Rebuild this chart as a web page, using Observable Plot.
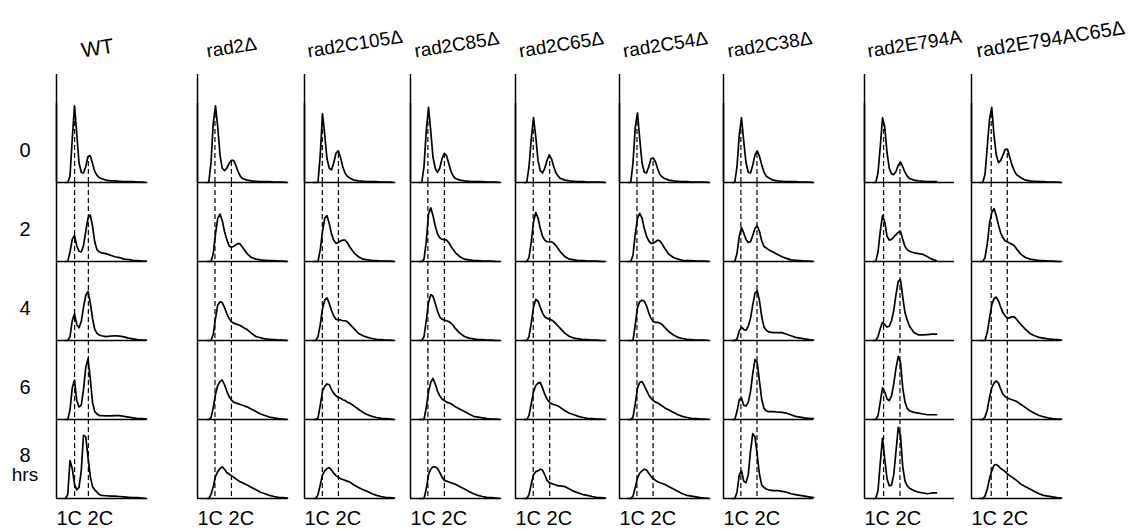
<!DOCTYPE html>
<html><head><meta charset="utf-8">
<script src="https://cdn.jsdelivr.net/npm/d3@7"></script>
<script src="https://cdn.jsdelivr.net/npm/@observablehq/plot@0.6"></script>
<style>
html,body{margin:0;padding:0;background:#fff;}
#fig{position:relative;width:1133px;height:529px;overflow:hidden;font-family:"Liberation Sans",Arial,sans-serif;}
#fig svg{position:absolute;top:0;}
</style></head><body><div id="fig"></div>
<script>
// ---------- data ----------
const strains = ["WT","rad2Δ","rad2C105Δ","rad2C85Δ","rad2C65Δ","rad2C54Δ","rad2C38Δ","rad2E794A","rad2E794AC65Δ"];
const times = ["0","2","4","6","8"];
// DNA-content channel grid (0–1000) on which the histogram heights are read
const channels = [100,125,150,175,200,225,250,275,300,325,350,375,400,425,450,475,500,550,600,650,700,750,800,850,900,950,1000];
// 1C and 2C gate positions (channels) for each strain
const oneC = [201,194,198,193,197,194,193,212,219];
const twoC = [354,377,377,377,380,373,372,394,398];

// histogram heights (% of panel) for rows 0,2,4,6,8 h
const histWT = [
  [0,0,8,55,97,62,25,13,12,20,33,34,24,14,9,6,5,3,2,2,1.5,1,1,1,0.5,0.5,0],
  [0,0,12,28,33,20,13,12,20,38,55,59,45,25,15,12,11,10,8,6,5,3,2.5,1.5,1,0.5,0.5],
  [0,0,5,25,34,20,16,24,42,57,62,48,28,14,9,7,6,5,5.5,6,5.5,4.5,3,2,1,0.5,0.5],
  [0,0,12,40,50,24,16,18,38,66,77,52,22,10,7,5,5,4.5,4.5,5,5,4,3,2,1,1,0.5],
  [0,5,48,38,18,11,14,35,80,78,52,28,15,11,8,5,4,3.5,3,3,2.5,2,1.5,1,1,0.5,0]
];
const histRad2 = [
  [0,0,25,75,97,70,35,18,15,18,24,28,28,22,14,8,5,3,2,1.5,1,1,1,0.5,0.5,0.5,0],
  [0,0,0,10,35,55,60,52,38,28,20,18,19,21,23,22,18,10,5,3,2,1.5,1,1,0.5,0.5,0],
  [0,0,0,8,28,45,49,48,42,34,28,24,22,21,20,19,17,14,9,5,3.5,2,1.5,1,0.5,0.5,0],
  [0,0,2,15,32,43,48,50,44,36,29,25,22,21,20,19,18,16,13,10,7,5,3,2,1,0.5,0],
  [0,0,5,15,28,34,38,40,37,33,31,29,27,25,23,21,20,17,14,11,8,6,4,2.5,1.5,1,0.5]
];
const histC105 = [
  [0,0,0,35,87,60,30,18,16,25,37,40,32,20,12,8,6,3,2,1.5,1,1,1,0.5,0.5,0.5,0],
  [0,0,0,15,38,55,58,48,35,27,23,24,26,27,27,24,19,11,6,3,2,1,1,0.5,0.5,0.5,0],
  [0,0,5,20,40,51,54,47,38,31,27,26,26,25,25,24,21,15,9,6,4,2.5,1.5,1,0.5,0.5,0],
  [0,0,2,18,36,42,45,44,38,33,30,28,27,25,24,22,21,17,13,9,6,4,2.5,1.5,1,0.5,0],
  [0,0,5,17,30,35,38,39,36,32,29,27,25,24,23,22,21,17,14,11,9,6,4,2.5,1.5,1,0.5]
];
const histC85 = [
  [0,0,20,65,95,65,32,18,13,18,30,37,34,24,14,8,5,3,2,1.5,1,1,1,0.5,0.5,0.5,0],
  [0,0,3,25,60,68,58,45,35,30,28,28,27,24,19,15,11,6,3,2,1,1,0.5,0.5,0.5,0,0],
  [0,0,5,25,48,58,56,47,37,30,27,26,25,24,22,19,15,9,5,3,2,1,1,0.5,0.5,0,0],
  [0,0,0,15,35,47,52,45,36,30,26,24,22,21,20,18,16,13,10,7,4,3,2,1,0.5,0.5,0],
  [0,0,0,12,30,37,40,40,38,33,27,23,22,21,20,19,18,15,12,9,6,4,2.5,1.5,1,0.5,0]
];
const histC65 = [
  [0,0,20,55,82,58,28,15,12,18,28,35,30,20,12,8,5,3,2,1.5,1,1,0.5,0.5,0.5,0.5,0],
  [0,0,5,25,50,62,55,42,32,27,25,25,25,23,20,16,12,6,3,2,1,1,0.5,0.5,0.5,0,0],
  [0,0,5,22,42,52,50,42,35,30,28,27,26,24,21,18,15,9,5,3,2,1,1,0.5,0.5,0,0],
  [0,0,5,20,35,43,46,47,40,32,26,22,20,19,18,17,15,11,8,6,4,2.5,1.5,1,0.5,0.5,0],
  [0,0,5,18,30,34,35,37,36,30,23,20,19,18,17,16,16,15,12,9,7,5,4,2.5,1.5,1,0.5]
];
const histC54 = [
  [0,0,25,70,88,55,25,13,12,20,30,31,26,17,10,7,5,3,2,1.5,1,1,0.5,0.5,0.5,0.5,0],
  [0,0,8,35,55,61,55,42,32,26,23,23,25,27,26,22,17,9,5,3,1.5,1,1,0.5,0.5,0.5,0],
  [0,0,0,20,42,49,51,50,44,35,28,24,23,23,22,20,17,11,7,4,2.5,1.5,1,0.5,0.5,0.5,0],
  [0,0,3,20,40,47,48,43,37,31,27,24,22,21,19,17,15,12,9,6,4,2.5,1.5,1,0.5,0.5,0],
  [0,0,3,14,26,32,35,37,36,32,28,25,23,21,20,19,18,15,12,9,6,4,3,2,1,0.5,0]
];
const histC38 = [
  [0,0,20,60,82,52,25,13,12,22,35,40,33,22,13,8,6,3,2,1.5,1,1,1,0.5,0.5,0.5,0],
  [0,0,10,32,43,36,28,24,25,33,42,45,38,26,19,17,15,12,9,6,4,2,1.5,1,0.5,0.5,0],
  [0,0,2,12,17,14,13,18,28,45,60,63,50,30,17,13,11,10,10,10,8,6,4,3,2,1,0.5],
  [0,0,10,25,27,18,17,22,35,58,76,72,48,25,14,11,10,10,9.5,9,8,6,4,3,2,1.5,1],
  [0,0,8,30,35,22,20,30,60,82,78,55,30,17,14,12,11,10,10,9,8,6,5,4,3,2,1]
];
// rad2E794A traces stop at channel 800
const histE794A = [
  [0,0,12,45,82,70,38,18,11,10,14,22,26,20,13,8,5,3,2,1.5,1,1,1],
  [0,0,12,38,58,50,32,27,28,31,34,37,38,28,19,15,13,11,10,9,6,3,1],
  [0,0,5,15,23,20,17,18,25,38,58,75,77,55,35,26,18,10,7,7,7.5,8,8],
  [0,0,5,22,40,35,26,24,30,45,65,80,72,40,22,14,11,9,8,7,6,6,6],
  [0,0,10,45,76,50,25,16,17,30,60,90,80,40,22,16,13,10,8,7,6,7,7]
];
const histE794AC65 = [
  [0,0,10,45,80,95,60,35,25,28,35,42,42,32,22,15,10,6,3,2,1.5,1,1,0.5,0.5,0.5,0],
  [0,0,5,22,48,62,67,58,46,36,30,26,25,23,22,20,16,9,5,3,2,1,1,0.5,0.5,0,0],
  [0,0,0,10,28,45,53,55,50,42,35,31,28,29,30,30,27,20,14,9,6,4,3,2,1.5,1,0.5],
  [0,0,3,12,28,40,46,49,46,38,32,29,27,26,25,24,23,19,15,11,8,5,3.5,2,1,0.5,0.5],
  [0,0,3,12,25,35,42,43,41,38,36,34,31,29,27,25,23,18,15,12,9,6,4,3,2,1,0.5]
];
const hists = [histWT,histRad2,histC105,histC85,histC65,histC54,histC38,histE794A,histE794AC65];

// ---------- layout ----------
const colAxisX = [56,197.3,304,410,514.7,619.3,722.7,864,970.7];
const headerDx = [26,10,4,5,4.5,4.5,5,4,6];
const headerSize = [21,19,19,19,19,19,19,19,20];
const panelW = 90;
const fig = document.getElementById("fig");
const font = "'Liberation Sans', Arial, Helvetica, sans-serif";

strains.forEach((strain, i) => {
  const ml = i === 0 ? 56 : 2;
  const mr = 2;
  const rows = hists[i];
  const data = [];
  times.forEach((t, r) => rows[r].forEach((v, k) => data.push({t, c: channels[k], v})));
  const gates = [];
  times.forEach((t, r) => [oneC[i], twoC[i]].forEach(g => {
    const top = r === 0 ? d3.scaleLinear(channels.slice(0, rows[0].length), rows[0])(g) : null;
    gates.push({t, g, top});
  }));
  const marks = [
    Plot.ruleY([0], {stroke: "black", strokeWidth: 1.3}),
    Plot.ruleX(gates.filter(d => d.t !== "0"), {x: "g", fy: "t", stroke: "black", strokeWidth: 1.2, strokeDasharray: "5,3"}),
    Plot.ruleX(gates.filter(d => d.t === "0"), {x: "g", fy: "t", y1: () => 0, y2: "top", stroke: "black", strokeWidth: 1.2, strokeDasharray: "5,3"}),
    Plot.line(data, {x: "c", y: "v", fy: "t", stroke: "black", strokeWidth: 1.7, strokeLinejoin: "round"}),
    Plot.ruleX([0], {stroke: "black", strokeWidth: 1.5}),
    Plot.ruleX([{t: "0"}], {x: () => 0, fy: "t", insetTop: -29, stroke: "black", strokeWidth: 1.5}),
    Plot.text([{t: "0", s: strain}], {fy: "t", text: "s", frameAnchor: "top-left", textAnchor: "start", lineAnchor: "bottom", rotate: -9, dx: headerDx[i], dy: -46, fontSize: headerSize[i]}),
    Plot.text([{t: "8"}], {fy: "t", text: () => "1C 2C", frameAnchor: "bottom-left", textAnchor: "start", lineAnchor: "bottom", dy: 26, fontSize: 20})
  ];
  if (i === 0) {
    marks.push(
      Plot.text(times.filter(t => t !== "8"), {fy: d => d, text: d => d, frameAnchor: "bottom-left", textAnchor: "middle", lineAnchor: "bottom", dx: -31.5, dy: -26, fontSize: 20}),
      Plot.text(["8"], {fy: d => d, text: d => d, frameAnchor: "bottom-left", textAnchor: "middle", lineAnchor: "bottom", dx: -31.5, dy: -37, fontSize: 20}),
      Plot.text([{t: "8"}], {fy: "t", text: () => "hrs", frameAnchor: "bottom-left", textAnchor: "middle", lineAnchor: "bottom", dx: -31.5, dy: -18, fontSize: 19})
    );
  }
  const svg = Plot.plot({
    width: ml + panelW + mr,
    height: 529,
    marginLeft: ml, marginRight: mr, marginTop: 103, marginBottom: 31,
    x: {domain: [0, 1000], axis: null},
    y: {domain: [0, 100], axis: null},
    fy: {domain: times, axis: null, padding: 0},
    style: {fontFamily: font, overflow: "visible", background: "transparent", color: "black"},
    marks
  });
  svg.style.left = (colAxisX[i] - ml) + "px";
  fig.appendChild(svg);
});
</script>
</body></html>
